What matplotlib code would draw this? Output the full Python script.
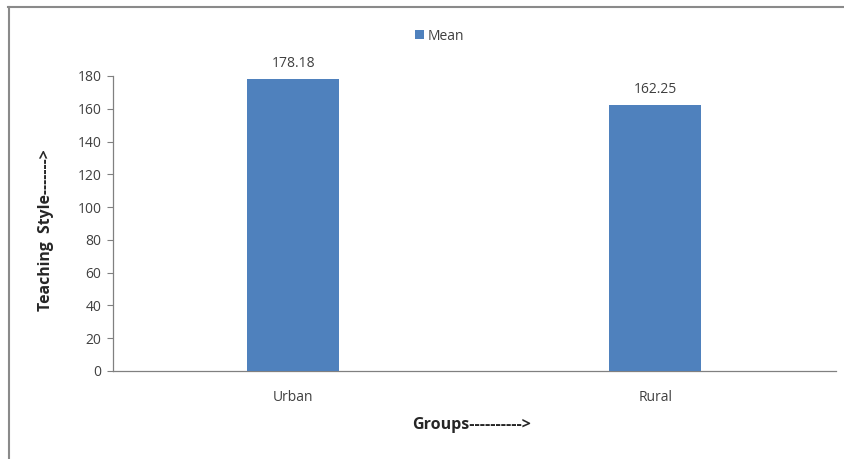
import matplotlib
matplotlib.use("Agg")
import matplotlib.pyplot as plt
from matplotlib.lines import Line2D

categories = ["Urban", "Rural"]
means = [178.18, 162.25]
yticks = [0, 20, 40, 60, 80, 100, 120, 140, 160, 180]
series_name = "Mean"
xlabel = "Groups---------->"
ylabel = "Teaching  Style------->"

plt.rcParams['font.family'] = ['Open Sans', 'DejaVu Sans']
W, H = 845, 459
fig = plt.figure(figsize=(W/100, H/100), dpi=100)
ax = fig.add_axes([112.5/W, 1-371/H, (836-112.5)/W, (371-76)/H])

bar_color = "#4F81BD"
x = range(len(categories))
bars = ax.bar(x, means, width=0.255, color=bar_color, label=series_name, zorder=3)
for xi, v in zip(x, means):
    ax.text(xi, v + 5, f"{v:.2f}", ha="center", va="bottom", fontsize=10, color="#404040")

ax.set_xlim(-0.5, 1.5)
ax.set_ylim(0, 180)
ax.set_yticks(yticks)
ax.set_xticks(list(x))
ax.set_xticklabels(categories)
ax.tick_params(axis='x', length=0, pad=14, labelsize=10, labelcolor="#404040")
ax.tick_params(axis='y', direction='out', length=4, width=0.8, color="#808080", labelsize=10, labelcolor="#404040", pad=4)
for s in ["top", "right"]:
    ax.spines[s].set_visible(False)
for s in ["left", "bottom"]:
    ax.spines[s].set_color("#808080")
    ax.spines[s].set_linewidth(0.9)

fig.text(472/W, 1-425/H, xlabel, ha="center", va="center", fontsize=11.5, fontweight="bold", color="#262626")
fig.text(46/W, 1-230/H, ylabel, ha="center", va="center", rotation=90, fontsize=11.3, fontweight="bold", color="#262626")

leg = fig.legend(handles=[bars], labels=[series_name], loc="center", bbox_to_anchor=(440/W, 1-36/H),
                 frameon=False, fontsize=10, handlelength=0.6, handleheight=0.6, handletextpad=0.3)
for t in leg.get_texts():
    t.set_color("#404040")

fig.add_artist(Line2D([8/W, 1], [1-7/H, 1-7/H], color="#8a8a8a", linewidth=1.5, transform=fig.transFigure))
fig.add_artist(Line2D([9/W, 9/W], [0, 1-7/H], color="#8a8a8a", linewidth=1.5, transform=fig.transFigure))

fig.savefig("out.png", dpi=100)
